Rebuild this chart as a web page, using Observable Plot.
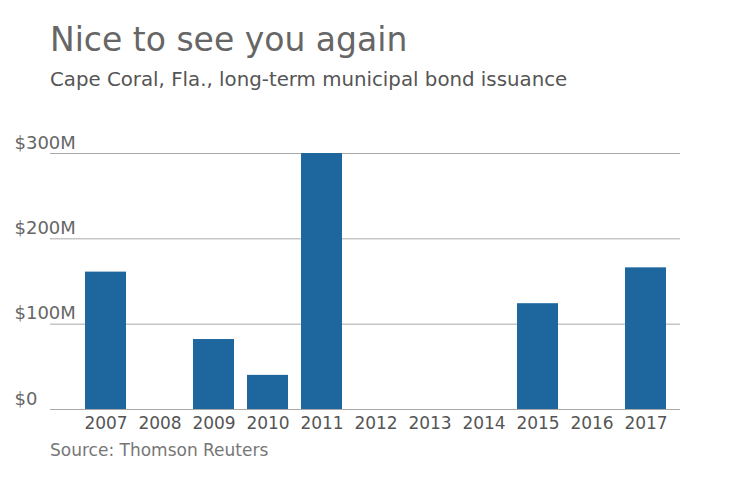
<!DOCTYPE html>
<html>
<head>
<meta charset="utf-8">
<script src="https://cdn.jsdelivr.net/npm/d3@7"></script>
<script src="https://cdn.jsdelivr.net/npm/@observablehq/plot@0.6"></script>
<style>
  html, body { margin: 0; padding: 0; background: #fff; }
  body { width: 740px; height: 482px; position: relative; overflow: hidden; font-family: "DejaVu Sans", Verdana, sans-serif; }
  .t { position: absolute; left: 50px; white-space: nowrap; line-height: 1; }
  #title { top: 23px; font-size: 33px; color: #666; }
  #subtitle { top: 70px; font-size: 19.8px; color: #555; }
  #caption { top: 441.6px; font-size: 17px; color: #777; }
  #chart { position: absolute; left: 0; top: 120px; }
</style>
</head>
<body>
<div id="title" class="t">Nice to see you again</div>
<div id="subtitle" class="t">Cape Coral, Fla., long-term municipal bond issuance</div>
<div id="chart"></div>
<div id="caption" class="t">Source: Thomson Reuters</div>
<script>
const years = ["2007","2008","2009","2010","2011","2012","2013","2014","2015","2016","2017"];
const issuance = [161, 0, 82, 40, 300, 0, 0, 0, 124, 0, 166];
const yTicks = [0, 100, 200, 300];
const yTickLabels = ["$0", "$100M", "$200M", "$300M"];

const data = years.map((y, i) => ({year: y, value: issuance[i]}));
const ticks = yTicks.map((v, i) => ({v, label: yTickLabels[i]}));

const chart = Plot.plot({
  width: 740,
  height: 320,
  marginTop: 33,
  marginBottom: 31,
  marginLeft: 50,
  marginRight: 60,
  style: {fontFamily: "'DejaVu Sans', Verdana, sans-serif", background: "transparent"},
  x: {domain: years, paddingInner: 0.24, paddingOuter: 0.45, align: 0.72, label: null},
  y: {domain: [0, 300], label: null, axis: null},
  marks: [
    Plot.ruleY(yTicks, {stroke: "#aaa", strokeWidth: 1}),
    Plot.barY(data.filter(d => d.value > 0), {x: "year", y: "value", fill: "#1d679e"}),
    Plot.text(ticks, {y: "v", text: "label", frameAnchor: "left", textAnchor: "start", lineAnchor: "bottom", dx: -36, dy: -5, fontSize: 18, fill: "#666"}),
    Plot.axisX({tickSize: 0, tickPadding: 7, fontSize: 17, color: "#555", label: null}),
  ]
});
document.getElementById("chart").appendChild(chart);
</script>
</body>
</html>
